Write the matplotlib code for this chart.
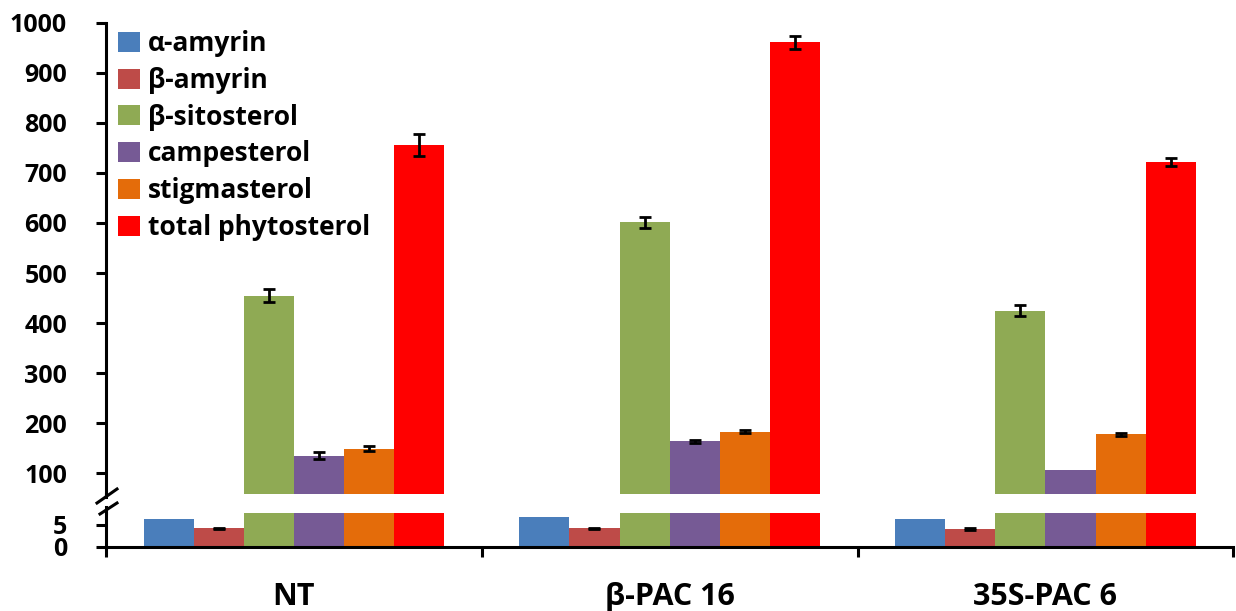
import matplotlib
matplotlib.use("Agg")
import matplotlib.pyplot as plt
import numpy as np

plt.rcParams['font.family'] = ['Open Sans', 'DejaVu Sans']
plt.rcParams['font.weight'] = 'bold'

groups = ['NT', 'β-PAC 16', '35S-PAC 6']
series_names = ['α-amyrin', 'β-amyrin', 'β-sitosterol', 'campesterol',
                'stigmasterol', 'total phytosterol']
alpha_amyrin = [6.4, 6.9, 6.4]
alpha_amyrin_err = [0.0, 0.0, 0.0]
beta_amyrin = [4.2, 4.2, 4.1]
beta_amyrin_err = [0.2, 0.2, 0.2]
sitosterol = [455, 601, 425]
sitosterol_err = [12.5, 11, 10.5]
campesterol = [135, 164, 106]
campesterol_err = [7, 3, 0]
stigmasterol = [149, 183, 178]
stigmasterol_err = [5, 3, 3]
total = [755, 961, 722]
total_err = [22, 13, 8]

values = [alpha_amyrin, beta_amyrin, sitosterol, campesterol, stigmasterol, total]
errors = [alpha_amyrin_err, beta_amyrin_err, sitosterol_err, campesterol_err,
          stigmasterol_err, total_err]
colors = ['#4A7EBB', '#BE4B48', '#8FAA54', '#765A95', '#E46C0A', '#FF0000']

upper_ticks = [100, 200, 300, 400, 500, 600, 700, 800, 900, 1000]
lower_ticks = [0, 5]

W, H = 1236, 611
fig = plt.figure(figsize=(W / 100, H / 100), dpi=100)

left = 106 / W
width = (1233.3 - 106) / W
ax_up = fig.add_axes([left, 1 - 494 / H, width, (494 - 22.7) / H])
ax_lo = fig.add_axes([left, 1 - 547 / H, width, (547 - 513) / H])

x = np.arange(len(groups))
n = len(series_names)
bw = 0.8 / n
handles = []
for ax in (ax_up, ax_lo):
    for i in range(n):
        pos = x - 0.4 + bw * (i + 0.5)
        b = ax.bar(pos, values[i], width=bw, color=colors[i], edgecolor='none',
                   label=series_names[i], zorder=2)
        err = np.asarray(errors[i], dtype=float)
        m = err > 0
        if m.any():
            ax.errorbar(pos[m], np.asarray(values[i], dtype=float)[m], yerr=err[m],
                        fmt='none', ecolor='black', elinewidth=2, capsize=4,
                        capthick=2, zorder=3)
        if ax is ax_up:
            handles.append(b)
    ax.set_xlim(-0.5, 2.5)
    for s in ('top', 'right'):
        ax.spines[s].set_visible(False)
    ax.spines['left'].set_linewidth(2.2)
    ax.spines['bottom'].set_linewidth(2.2)
    ax.tick_params(axis='y', direction='out', length=7, width=2.2,
                   labelsize=18, pad=21)

ax_up.set_ylim(58.6, 1000)
ax_up.set_yticks(upper_ticks)
ax_up.spines['bottom'].set_visible(False)
ax_up.tick_params(axis='x', bottom=False, labelbottom=False)

ax_lo.set_ylim(0, 7.7)
ax_lo.set_yticks(lower_ticks)
ax_lo.set_xticks([-0.5, 0.5, 1.5, 2.5])
ax_lo.set_xticklabels([])
ax_lo.set_xticks(x, minor=True)
ax_lo.set_xticklabels(groups, minor=True)
ax_lo.tick_params(axis='x', which='major', direction='out', length=7, width=2.2)
ax_lo.tick_params(axis='x', which='minor', length=0, labelsize=22, pad=25)

for lab in ax_up.get_yticklabels() + ax_lo.get_yticklabels() + ax_lo.get_xticklabels(minor=True):
    lab.set_fontweight('bold')

# axis break marks
def fig_line(xs, ys, **kw):
    fig.add_artist(plt.Line2D([v / W for v in xs], [1 - v / H for v in ys],
                              transform=fig.transFigure, color='black', **kw))

fig_line([106, 106], [494, 497], lw=2.2)
fig_line([106, 106], [507, 513], lw=2.2)
fig_line([97, 117], [503, 489], lw=2.2)
fig_line([100, 117], [514, 503], lw=2.2)

leg = ax_up.legend(handles=handles, loc='upper left',
                   bbox_to_anchor=(118 / W, 1 - 30 / H), bbox_transform=fig.transFigure,
                   frameon=False, fontsize=19, handlelength=0.85, handleheight=0.8,
                   handletextpad=0.3, labelspacing=0.37, borderpad=0, borderaxespad=0)
for t in leg.get_texts():
    t.set_fontweight('bold')

fig.savefig('out.png', dpi=100)
